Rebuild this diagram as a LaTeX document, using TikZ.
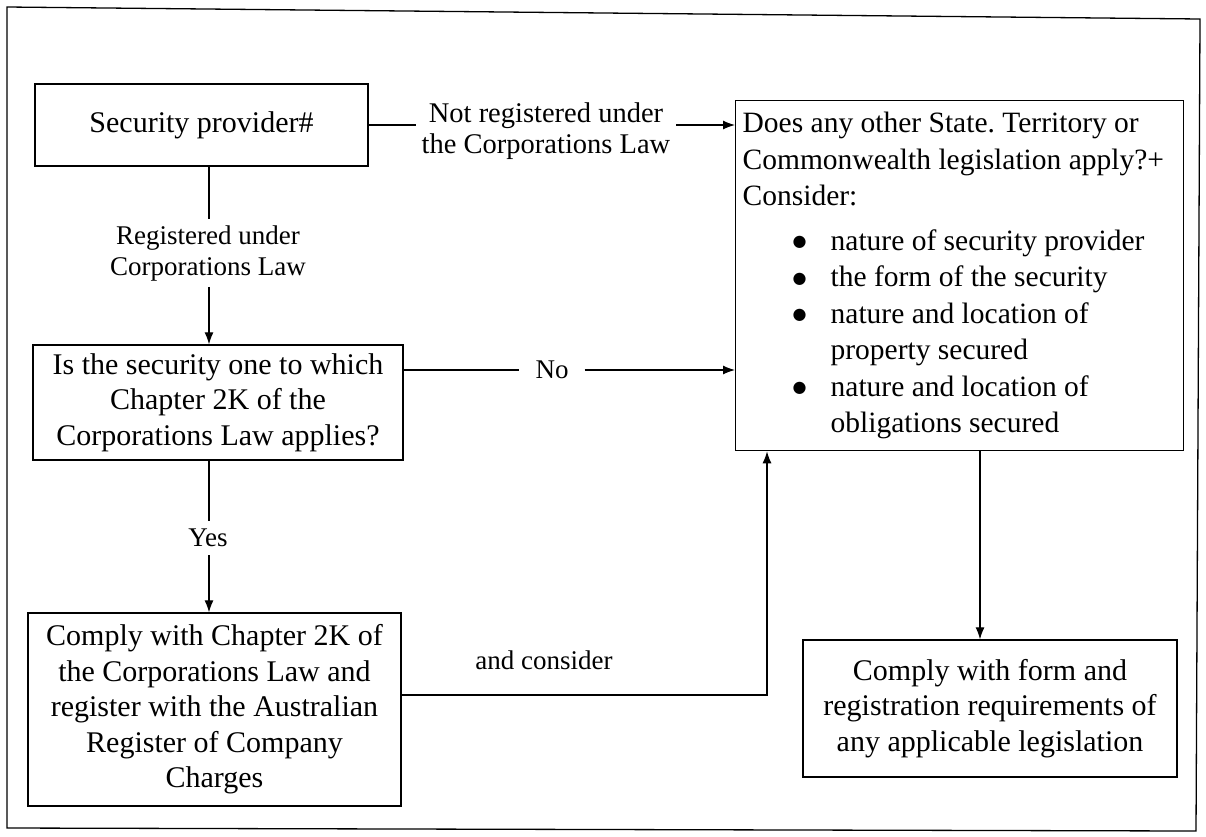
\documentclass[tikz,border=0pt]{standalone}
\usepackage{fontspec}
\setmainfont{Liberation Serif}
\newfontfamily\dejavu{DejaVu Sans}
\usetikzlibrary{arrows.meta,calc}
\newcommand{\bigbul}{\makebox[88pt][l]{\hspace{50pt}\raisebox{3.5pt}{\dejavu\fontsize{16}{16}\selectfont ●}}}
\begin{document}
\begin{tikzpicture}[x=1pt,y=-1pt,
  boxtext/.style={font=\fontsize{30}{35.5}\selectfont},
  box/.style={draw,line width=1.3pt,boxtext,align=center,inner sep=2pt},
  lab/.style={font=\fontsize{27}{31}\selectfont,align=center,inner xsep=6pt,inner ysep=6pt},
  conn/.style={line width=1.2pt},
  arr/.style={conn,-{Latex[length=12pt,width=9pt]}},
  frameline/.style={line width=1.3pt}]
\useasboundingbox (0,0) rectangle (1206,836);
% outer frame
\draw[frameline] (7,7) -- (1200,19) -- (1196,831) -- (7,828) -- cycle;
% boxes
\node[box,minimum width=333pt,minimum height=82pt] (A) at (201.5,125) {Security provider\#};
\node[box,minimum width=370pt,minimum height=115pt] (B) at (218,402.5)
  {Is the security one to which\\Chapter 2K of the\\Corporations Law applies?};
\node[box,minimum width=373pt,minimum height=193pt] (D) at (214.5,709.5)
  {Comply with Chapter 2K of\\the Corporations Law and\\register with the Australian\\Register of Company\\Charges};
\node[box,minimum width=374pt,minimum height=137pt] (E) at (990,708.5)
  {Comply with form and\\registration requirements of\\any applicable legislation};
\node[draw,line width=1.3pt,align=flush left,anchor=north west,
      text width=434pt,inner xsep=7pt,inner ysep=2pt,minimum height=350pt,
      font=\fontsize{29.5}{36.5}\selectfont] (C) at (735,100)
  {\hyphenpenalty=10000\frenchspacing Does any other State. Territory or\\
   Commonwealth legislation apply?+\\
   Consider:\\[8pt]
   \bigbul nature of security provider\\
   \bigbul the form of the security\\
   \bigbul nature and location of\\
   \hspace*{88pt}property secured\\
   \bigbul nature and location of\\
   \hspace*{88pt}obligations secured};
% labels
\node[lab,font=\fontsize{28.5}{31}\selectfont] (nrlab) at (546,131) {Not registered under\\the Corporations Law};
\node[lab] (reglab) at (208,253) {Registered under\\Corporations Law};
\node[lab,inner xsep=16pt] (nolab) at (552,370) {No};
\node[lab,inner ysep=8pt] (yeslab) at (208,538) {Yes};
\node[lab] (aclab) at (544,660) {and consider};
% helper coordinates
\coordinate (vx) at (209,0);
\coordinate (kx) at (767,695);
\coordinate (cx) at (980,0);
% connectors
\draw[conn] (A.east) -- (nrlab.west |- A.east);
\draw[arr] (nrlab.east |- A.east) -- (C.west |- A.east);
\draw[conn] (A.south -| vx) -- (reglab.north -| vx);
\draw[arr] (reglab.south -| vx) -- (B.north -| vx);
\draw[conn] (B.east |- nolab) -- (nolab.west);
\draw[arr] (nolab.east) -- (C.west |- nolab);
\draw[conn] (B.south -| vx) -- (yeslab.north -| vx);
\draw[arr] (yeslab.south -| vx) -- (D.north -| vx);
\draw[arr] (D.east |- kx) -- (kx) -- (C.south -| kx);
\draw[arr] (C.south -| cx) -- (E.north -| cx);
\end{tikzpicture}
\end{document}
